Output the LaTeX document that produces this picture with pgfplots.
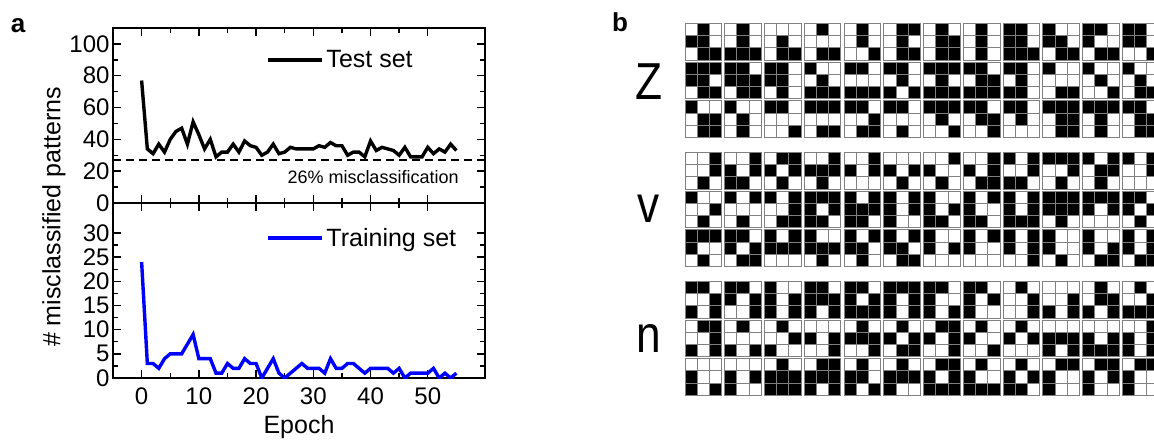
\documentclass[border=0pt]{standalone}
\usepackage{fontspec}
\setmainfont{Liberation Sans}
\usepackage{pgfplots}
\usepackage{pgfplotstable}
\pgfplotsset{compat=1.18}

\newcommand{\fs}[1]{\fontsize{#1}{#1}\selectfont}

% panel b: one row per 3x3 pattern (group, row, column, cells row-major from top)
\pgfplotstableread{
g r c b1 b2 b3 b4 b5 b6 b7 b8 b9
0 0 0  0 1 0 1 1 0 0 1 1
0 0 1  0 1 0 0 1 0 1 1 1
0 0 2  0 0 0 0 1 0 0 1 1
0 0 3  0 1 0 0 0 0 0 1 1
0 0 4  0 1 0 0 1 0 0 0 1
0 0 5  0 1 1 0 1 0 0 1 1
0 0 6  0 1 0 0 1 1 0 1 1
0 0 7  0 1 0 0 1 0 0 1 0
0 0 8  1 1 0 1 1 0 1 1 1
0 0 9  1 0 0 1 1 0 0 1 1
0 0 10 1 1 0 1 0 0 0 1 1
0 0 11 1 1 0 1 1 0 0 0 1
0 1 0  1 1 1 1 1 0 0 1 1
0 1 1  1 1 0 1 1 1 0 1 1
0 1 2  1 1 0 1 1 0 0 1 0
0 1 3  1 0 0 0 1 0 1 1 1
0 1 4  1 1 0 0 0 0 1 1 1
0 1 5  1 1 0 0 1 0 1 0 1
0 1 6  1 1 1 0 1 0 1 1 1
0 1 7  1 1 0 0 1 1 1 1 1
0 1 8  1 1 0 0 1 0 1 1 0
0 1 9  1 0 0 0 0 0 0 1 1
0 1 10 1 0 0 0 1 0 0 0 1
0 1 11 1 0 0 0 1 0 0 1 1
0 2 0  1 0 0 0 1 1 0 1 1
0 2 1  1 0 0 0 1 0 0 1 0
0 2 2  1 1 0 0 0 0 0 0 1
0 2 3  1 1 1 0 0 0 0 1 1
0 2 4  1 1 0 0 0 1 0 1 1
0 2 5  1 1 0 0 0 0 0 1 0
0 2 6  1 1 1 0 1 0 0 0 1
0 2 7  1 1 0 0 1 1 0 0 1
0 2 8  1 1 0 0 1 0 0 0 0
0 2 9  1 1 1 0 1 1 0 1 1
0 2 10 1 1 1 0 1 0 0 1 0
0 2 11 1 1 0 0 1 1 0 1 1
1 0 0  0 0 1 0 0 1 0 1 0
1 0 1  0 0 1 1 0 1 1 1 0
1 0 2  0 1 1 1 0 1 0 1 0
1 0 3  0 0 1 1 1 1 0 1 0
1 0 4  0 0 1 1 0 1 0 0 0
1 0 5  0 0 0 1 0 1 0 1 0
1 0 6  0 0 1 1 0 0 0 1 0
1 0 7  0 0 1 1 0 1 0 1 1
1 0 8  1 0 1 0 0 1 1 1 0
1 0 9  1 1 1 0 0 1 0 1 0
1 0 10 1 0 1 0 1 1 0 1 0
1 0 11 1 0 1 0 0 1 0 0 0
1 1 0  1 0 0 0 0 1 0 1 0
1 1 1  1 0 1 0 0 0 0 1 0
1 1 2  1 0 1 0 0 1 0 1 1
1 1 3  1 1 1 1 0 1 1 1 0
1 1 4  1 0 1 1 1 1 1 1 0
1 1 5  1 0 1 1 0 1 1 0 0
1 1 6  1 0 0 1 0 1 1 1 0
1 1 7  1 0 1 1 0 0 1 1 0
1 1 8  1 0 1 1 0 1 1 1 1
1 1 9  1 1 1 1 1 1 0 1 0
1 1 10 1 1 1 1 0 1 0 0 0
1 1 11 1 1 0 1 0 1 0 1 0
1 2 0  1 1 1 1 0 0 0 1 0
1 2 1  1 1 0 1 0 1 0 1 1
1 2 2  1 0 1 1 1 1 0 0 0
1 2 3  1 0 0 1 1 1 0 1 0
1 2 4  1 0 1 1 1 0 0 1 0
1 2 5  1 0 1 1 1 0 0 1 1
1 2 6  1 0 0 1 0 1 0 0 0
1 2 7  1 0 1 1 0 0 0 0 0
1 2 8  1 0 1 1 0 1 0 0 1
1 2 9  1 0 0 1 0 0 0 1 0
1 2 10 1 0 0 1 0 1 0 1 1
1 2 11 1 0 1 1 0 1 0 1 1
2 0 0  1 1 0 0 0 1 1 0 1
2 0 1  1 1 0 1 0 1 0 0 1
2 0 2  1 0 0 1 0 1 1 0 1
2 0 3  1 1 0 1 1 1 1 0 1
2 0 4  1 1 0 1 0 1 1 1 1
2 0 5  1 1 1 1 0 1 1 0 1
2 0 6  1 1 0 1 0 0 1 0 1
2 0 7  1 1 0 1 0 1 1 0 0
2 0 8  0 1 0 0 0 1 0 0 1
2 0 9  0 0 0 0 0 1 1 0 1
2 0 10 0 1 0 0 1 1 1 0 1
2 0 11 0 1 0 0 0 1 1 1 1
2 1 0  0 1 1 0 0 1 1 0 1
2 1 1  0 1 0 0 0 0 1 0 1
2 1 2  0 1 0 0 0 1 1 0 0
2 1 3  0 0 0 1 0 1 0 0 1
2 1 4  0 1 0 1 1 1 0 0 1
2 1 5  0 1 0 1 0 1 0 1 1
2 1 6  0 1 1 1 0 1 0 0 1
2 1 7  0 1 0 1 0 0 0 0 1
2 1 8  0 1 0 1 0 1 0 0 0
2 1 9  0 0 0 1 1 1 1 0 1
2 1 10 0 0 0 1 0 1 1 1 1
2 1 11 0 0 1 1 0 1 1 0 1
2 2 0  0 0 0 1 0 0 1 0 1
2 2 1  0 0 0 1 0 1 1 0 0
2 2 2  0 1 0 1 1 1 1 1 1
2 2 3  0 1 1 1 1 1 1 0 1
2 2 4  0 1 0 1 1 0 1 0 1
2 2 5  0 1 0 1 1 1 1 0 0
2 2 6  0 1 1 1 0 1 1 1 1
2 2 7  0 1 0 1 0 0 1 1 1
2 2 8  0 1 0 1 0 1 1 1 0
2 2 9  0 1 1 1 0 0 1 0 0
2 2 10 0 1 1 1 0 1 1 0 0
2 2 11 0 1 1 1 0 0 1 0 0
}\pats

\pgfplotsset{
  panela/.style={
    scale only axis, width=372pt, height=175pt,
    xmin=-5, xmax=60,
    axis line style={line width=1.6pt},
    tick align=inside, xtick pos=both, ytick pos=both,
    major tick length=8pt, minor tick length=5pt,
    every tick/.append style={line width=1.4pt, black},
    minor x tick num=1, minor y tick num=1,
    xtick={0,10,...,50},
    tick label style={font=\fs{24}},
    xticklabel style={yshift=-6pt},
    /pgf/number format/assume math mode=true,
    legend style={draw=none, fill=none, font=\fs{25}, anchor=west,
      inner sep=0pt, nodes={inner sep=3pt}},
    legend image code/.code={\draw[##1] (0pt,0pt) -- (54pt,0pt);},
  }
}

\begin{document}
\begin{tikzpicture}
\useasboundingbox (0,0) rectangle (1154pt,440pt);
\clip (0,0) rectangle (1154pt,440pt);

% ---- panel a, top: test set
\begin{axis}[panela, at={(113pt,237pt)}, anchor=south west,
  ymin=0, ymax=110, ytick={0,20,...,100}, xticklabels={},
  legend style={at={(0.411,0.817)}}]
\addplot[black, line width=3.4pt] coordinates {
(0,77) (1,34) (2,31) (3,37) (4,32) (5,40) (6,45) (7,47) (8,37) (9,51)
(10,43) (11,34) (12,40) (13,29) (14,32) (15,32) (16,37) (17,32) (18,39) (19,36)
(20,35) (21,30) (22,32) (23,37) (24,31) (25,32) (26,35) (27,34) (28,34) (29,34)
(30,34) (31,36) (32,35) (33,38) (34,36) (35,36) (36,30) (37,32) (38,32) (39,29)
(40,39) (41,33) (42,35) (43,34) (44,33) (45,30) (46,35) (47,29) (48,29) (49,29)
(50,35) (51,31) (52,34) (53,32) (54,37) (55,33)};
\addlegendentry{Test set}
\addplot[black, line width=1.6pt, dash pattern=on 8pt off 5pt, forget plot]
  coordinates {(-5,27) (60,27)};
\node[anchor=east, font=\fs{18}] at (axis cs:56,16.5) {26\% misclassification};
\end{axis}

% ---- panel a, bottom: training set
\begin{axis}[panela, at={(113pt,62pt)}, anchor=south west,
  ymin=0, ymax=36.2, ytick={0,5,...,30},
  xlabel={Epoch}, xlabel style={font=\fs{25}, yshift=-4pt},
  legend style={at={(0.411,0.80)}}]
\addplot[blue, line width=3.4pt] coordinates {
(0,24) (1,3) (2,3) (3,2) (4,4) (5,5) (6,5) (7,5) (8,7) (9,9)
(10,4) (11,4) (12,4) (13,1) (14,1) (15,3) (16,2) (17,2) (18,4) (19,3)
(20,3) (21,0) (22,2) (23,4) (24,1) (25,0) (26,1) (27,2) (28,3) (29,2)
(30,2) (31,2) (32,1) (33,4) (34,2) (35,2) (36,3) (37,3) (38,2) (39,1)
(40,2) (41,2) (42,2) (43,2) (44,1) (45,2) (46,0) (47,1) (48,1) (49,1)
(50,1) (51,2) (52,0) (53,1) (54,0) (55,1)};
\addlegendentry{Training set}
\end{axis}

\node[rotate=90, font=\fs{25}] at (54pt,223pt) {\# misclassified patterns};
\node[font=\bfseries\fs{26}] at (18pt,414pt) {a};
\node[font=\bfseries\fs{26}] at (620pt,418pt) {b};

% ---- panel b
\node[font=\fs{52}, xscale=0.85] at (649pt,358pt) {Z};
\node[font=\fs{52}, xscale=0.85] at (649pt,231pt) {v};
\node[font=\fs{52}, xscale=0.85] at (649pt,101pt) {n};

\begin{axis}[hide axis, x=12.2pt, y=12.2pt,
  at={(685pt,416.5pt)}, anchor=north west,
  xmin=-0.5, xmax=38.5, ymin=-30.5, ymax=0.5,
  colormap={bw}{color=(white) color=(black)},
  point meta min=0, point meta max=1]
\pgfplotsinvokeforeach{1,...,9}{
  \addplot[scatter, only marks, mark=square*, mark size=6.1pt,
    scatter src=explicit,
    scatter/use mapped color={draw=gray, fill=mapped color},
    every mark/.append style={line width=1pt}]
    table[x expr={\thisrow{c}*3.26+mod(#1-1,3)},
          y expr={-(\thisrow{g}*10.57+\thisrow{r}*3.17+floor((#1-1)/3))},
          meta=b#1] {\pats};
}
\end{axis}
\end{tikzpicture}
\end{document}
